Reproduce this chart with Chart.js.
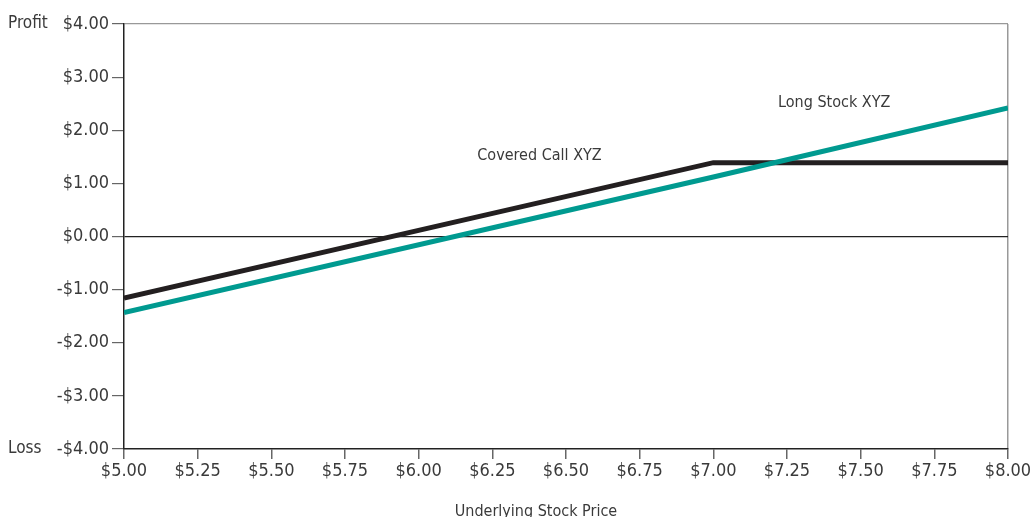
<!DOCTYPE html>
<html>
<head>
<meta charset="utf-8">
<script src="https://cdn.jsdelivr.net/npm/chart.js@4"></script>
<style>
  html, body { margin: 0; padding: 0; background: #fff; }
  #wrap { width: 1031px; height: 517px; }
</style>
</head>
<body>
<div id="wrap"><canvas id="chart" width="1031" height="517"></canvas></div>
<script>
const prices = [5.00, 7.00, 8.00];
const coveredCall = [-1.16, 1.39, 1.39];
const longStock = [-1.43, 1.12, 2.42];
const xTicks = [5.00, 5.25, 5.50, 5.75, 6.00, 6.25, 6.50, 6.75, 7.00, 7.25, 7.50, 7.75, 8.00];
const yTicks = [-4, -3, -2, -1, 0, 1, 2, 3, 4];
const seriesNames = ['Covered Call XYZ', 'Long Stock XYZ'];

const FONT = '"Liberation Sans Narrow", "DejaVu Sans Condensed", sans-serif';
const TEXT = '#3a3a3a';

function money(v) {
    return (v < 0 ? '-$' : '$') + Math.abs(v).toFixed(2);
}

// labels drawn next to the lines, plus Profit / Loss and axis title
const labelPlugin = {
    id: 'labels',
    afterDraw(chart) {
        const { ctx, scales: { x, y }, chartArea } = chart;
        ctx.save();
        ctx.fillStyle = TEXT;
        ctx.font = '16px ' + FONT;
        ctx.textAlign = 'center';
        ctx.textBaseline = 'middle';
        ctx.fillText(seriesNames[0], x.getPixelForValue(6.41), y.getPixelForValue(1.52));
        ctx.fillText(seriesNames[1], x.getPixelForValue(7.41), y.getPixelForValue(2.52));
        ctx.textAlign = 'left';
        ctx.font = '17px ' + FONT;
        ctx.fillText('Profit', 8, y.getPixelForValue(4));
        ctx.fillText('Loss', 8, y.getPixelForValue(-4));
        ctx.textAlign = 'center';
        ctx.font = '16px ' + FONT;
        ctx.fillText('Underlying Stock Price', chartArea.left + 0.466 * chartArea.width, 512);
        ctx.restore();
    }
};

new Chart(document.getElementById('chart').getContext('2d'), {
    type: 'line',
    data: {
        datasets: [
            {
                label: seriesNames[1],
                data: prices.map((p, i) => ({ x: p, y: longStock[i] })),
                borderColor: '#009a90',
                borderWidth: 5,
                pointRadius: 0,
                tension: 0
            },
            {
                label: seriesNames[0],
                data: prices.map((p, i) => ({ x: p, y: coveredCall[i] })),
                borderColor: '#231f20',
                borderWidth: 5,
                pointRadius: 0,
                tension: 0,
                borderJoinStyle: 'miter'
            }
        ]
    },
    options: {
        responsive: false,
        animation: false,
        layout: { padding: { top: 24, right: 23, left: 0, bottom: 0 } },
        plugins: { legend: { display: false }, tooltip: { enabled: false } },
        scales: {
            x: {
                type: 'linear',
                min: 5, max: 8,
                afterBuildTicks: s => { s.ticks = xTicks.map(v => ({ value: v })); },
                afterFit: s => { s.height = 68; s.paddingRight = 0; s.paddingLeft = 0; },
                border: { color: '#222', width: 1.5 },
                grid: {
                    color: c => c.tick && c.tick.value === 8 ? '#999' : 'transparent',
                    tickColor: '#666',
                    tickLength: 10,
                    lineWidth: 1.5
                },
                ticks: {
                    callback: v => money(v),
                    color: TEXT,
                    font: { family: FONT, size: 18 },
                    padding: 2,
                    maxRotation: 0,
                    autoSkip: false
                }
            },
            y: {
                min: -4, max: 4,
                afterBuildTicks: s => { s.ticks = yTicks.map(v => ({ value: v })); },
                afterFit: s => { s.width = 124; },
                border: { color: '#222', width: 1.5 },
                grid: {
                    color: c => {
                        if (!c.tick) return 'transparent';
                        if (c.tick.value === 0) return '#222';
                        if (c.tick.value === 4) return '#999';
                        return 'transparent';
                    },
                    tickColor: '#666',
                    tickLength: 12,
                    lineWidth: 1.2
                },
                ticks: {
                    callback: v => money(v),
                    color: TEXT,
                    font: { family: FONT, size: 18 },
                    padding: 3
                }
            }
        }
    },
    plugins: [labelPlugin]
});
</script>
</body>
</html>
